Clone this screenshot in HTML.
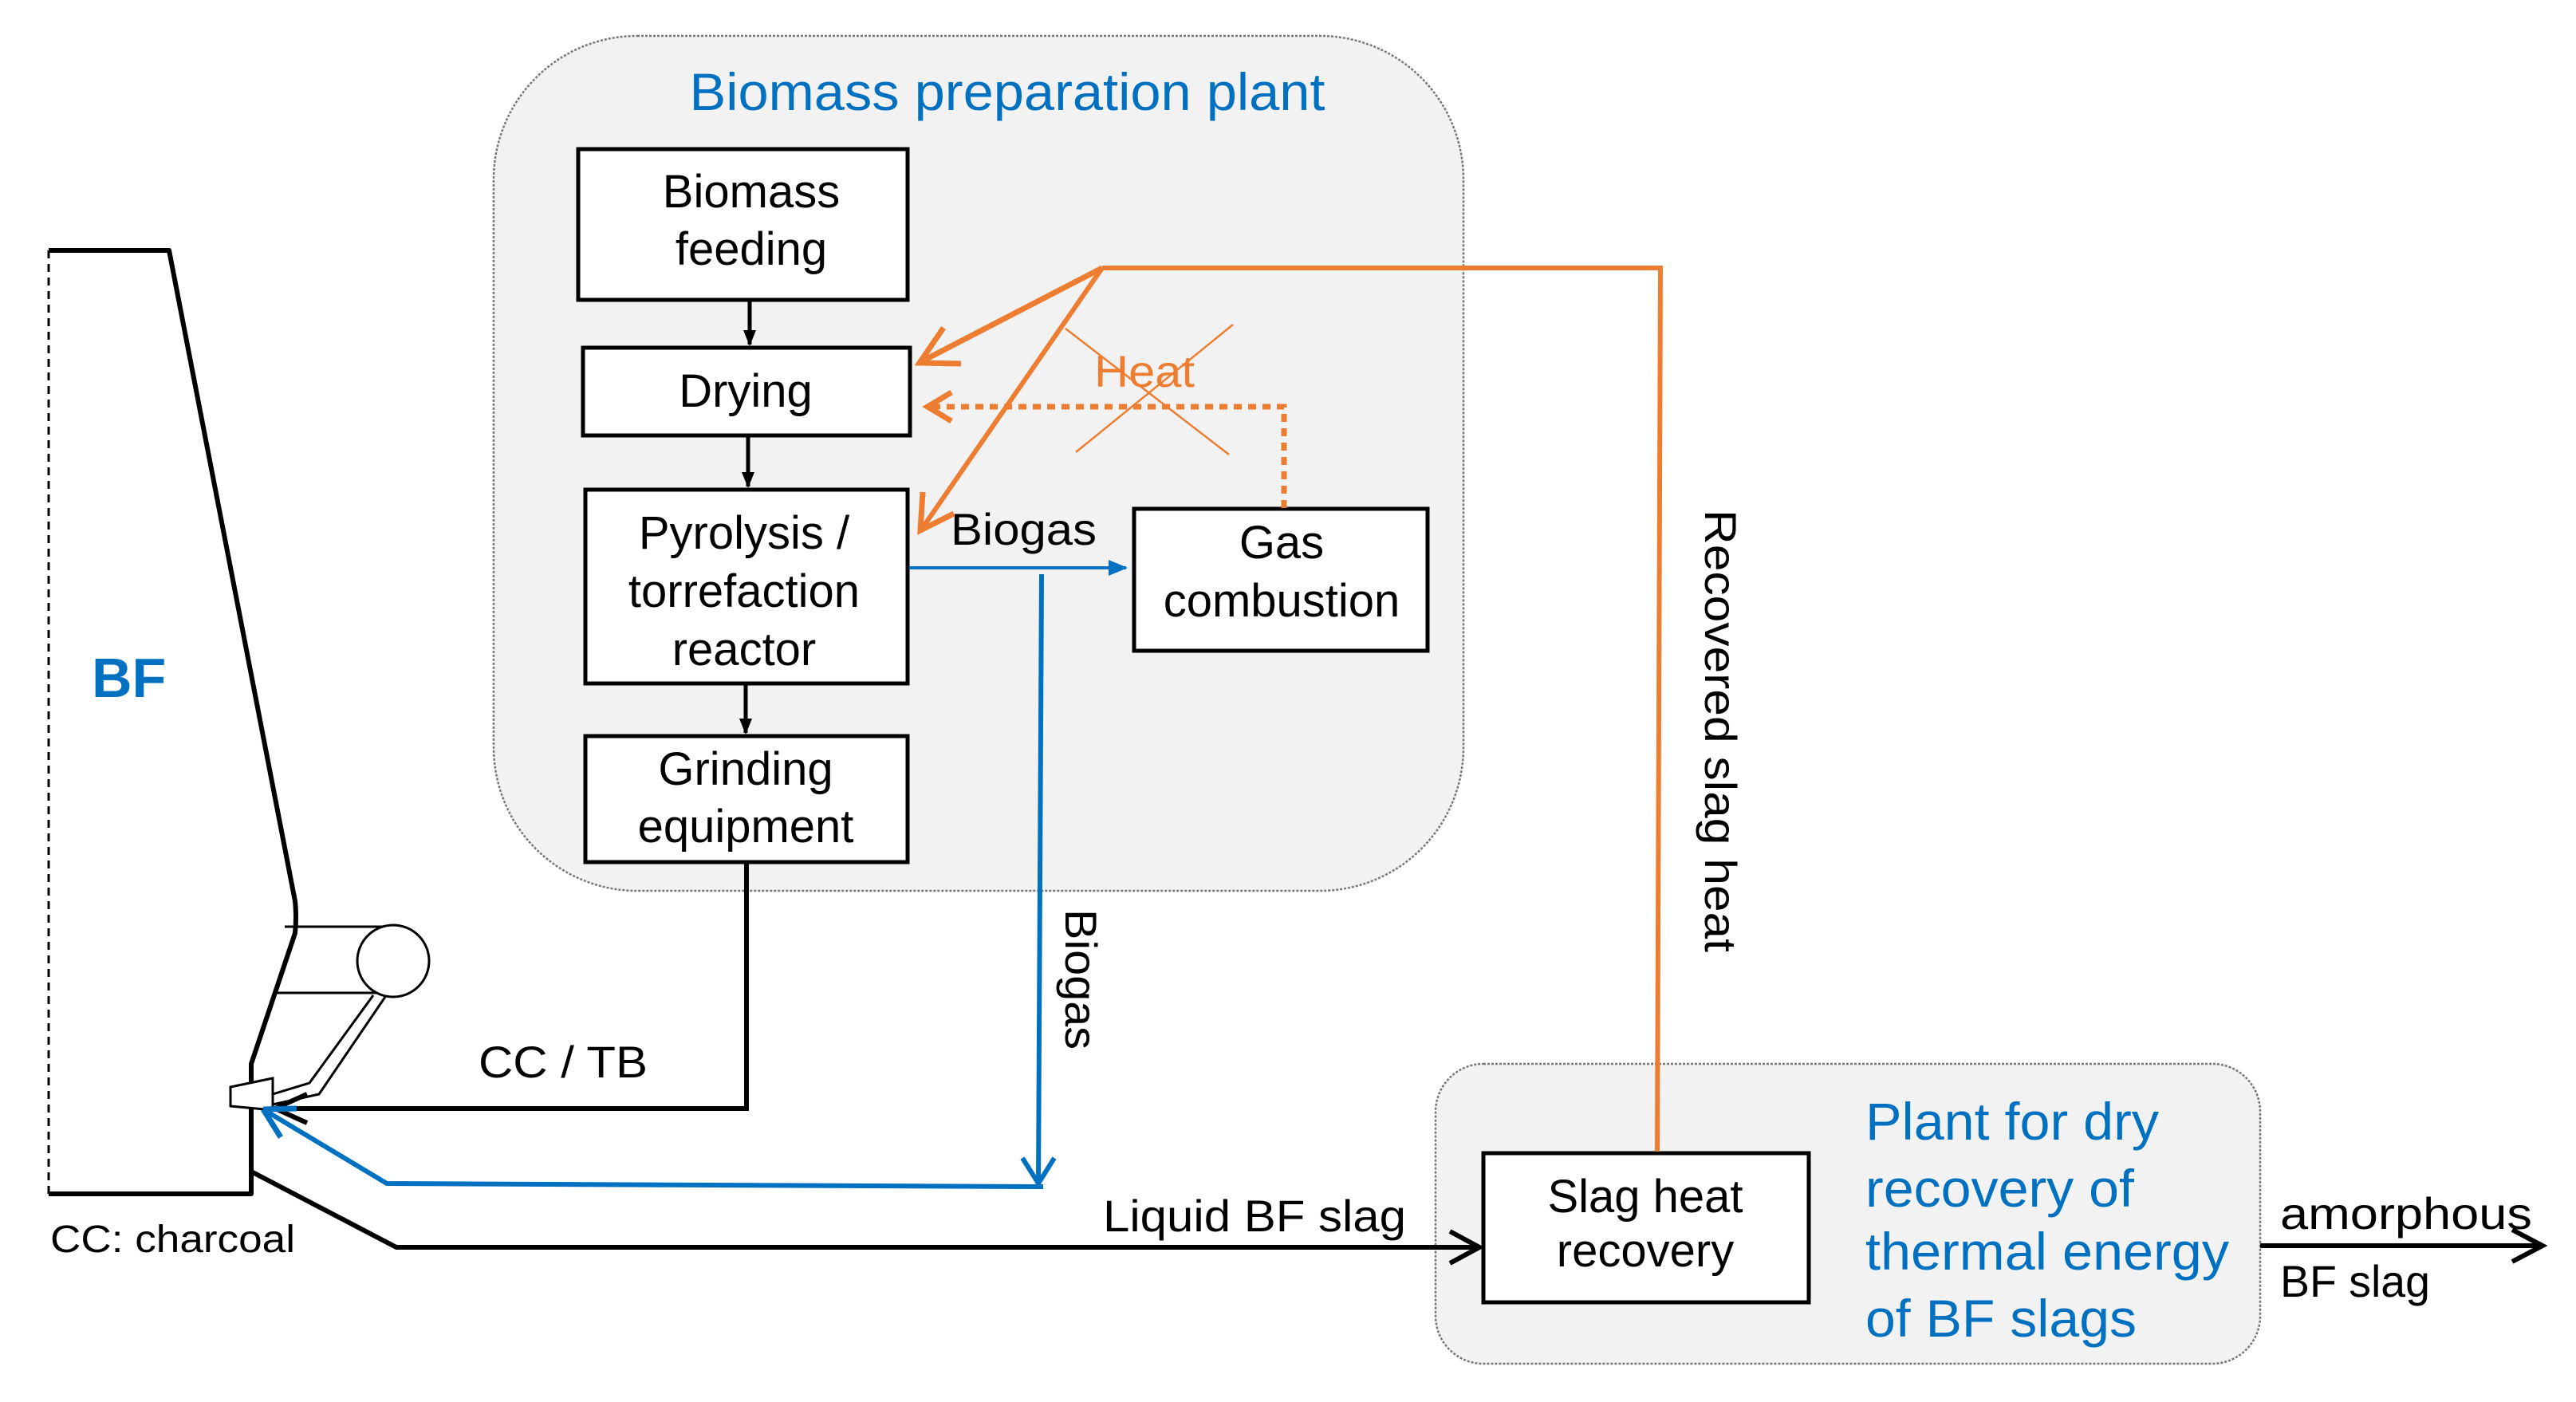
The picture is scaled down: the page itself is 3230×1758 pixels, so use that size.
<!DOCTYPE html>
<html><head><meta charset="utf-8"><style>
html,body{margin:0;padding:0;background:#fff;}
svg{display:block;}
text{font-family:"Liberation Sans",Arial,sans-serif;}
</style></head><body>
<svg width="3230" height="1758" viewBox="0 0 3230 1758" xmlns="http://www.w3.org/2000/svg">
<defs>
<marker id="ab" markerWidth="20" markerHeight="20" refX="18" refY="10" orient="auto" markerUnits="userSpaceOnUse" viewBox="0 0 20 20"><path d="M0,2 L20,10 L0,18 z" fill="#000"/></marker>
<marker id="ablue" markerWidth="24" markerHeight="20" refX="22" refY="10" orient="auto" markerUnits="userSpaceOnUse"><path d="M0,0 L24,10 L0,20 z" fill="#0070C0"/></marker>
</defs>

<rect x="619" y="45" width="1216" height="1072" rx="180" ry="180" fill="#f2f2f2" stroke="#777" stroke-width="2.5" stroke-dasharray="3,2"/>
<rect x="1800" y="1334" width="1034" height="376" rx="60" ry="60" fill="#f2f2f2" stroke="#777" stroke-width="2.5" stroke-dasharray="3,2"/>

<text x="1263" y="138" font-size="66" fill="#0070C0" text-anchor="middle" textLength="797" lengthAdjust="spacingAndGlyphs">Biomass preparation plant</text>

<g fill="#fff" stroke="#000" stroke-width="5">
<rect x="725" y="187" width="413" height="189"/>
<rect x="731" y="436" width="410" height="110"/>
<rect x="734" y="614" width="404" height="243"/>
<rect x="734" y="923" width="404" height="158"/>
<rect x="1422" y="638" width="368" height="178"/>
<rect x="1860" y="1446" width="408" height="187"/>
</g>
<g font-size="58" text-anchor="middle" fill="#000">
<text x="942" y="260">Biomass</text>
<text x="942" y="332">feeding</text>
<text x="935" y="510">Drying</text>
<text x="933" y="688">Pyrolysis /</text>
<text x="933" y="761">torrefaction</text>
<text x="933" y="834">reactor</text>
<text x="935" y="984">Grinding</text>
<text x="935" y="1056">equipment</text>
<text x="1607" y="700">Gas</text>
<text x="1607" y="773">combustion</text>
<text x="2063" y="1520">Slag heat</text>
<text x="2063" y="1588">recovery</text>
</g>

<g stroke="#000" stroke-width="5" fill="none">
<line x1="940" y1="378" x2="940" y2="432" marker-end="url(#ab)"/>
<line x1="938" y1="548" x2="938" y2="610" marker-end="url(#ab)"/>
<line x1="935" y1="859" x2="935" y2="919" marker-end="url(#ab)"/>
</g>

<line x1="61" y1="314" x2="61" y2="1497" stroke="#000" stroke-width="3" stroke-dasharray="10,7"/>
<path d="M61,314 L212,314 L370,1130 Q372,1150 370,1170 L315,1334 L315,1497 L61,1497" fill="none" stroke="#000" stroke-width="6" stroke-linejoin="round"/>
<text x="115" y="874" font-size="70" font-weight="bold" fill="#0070C0">BF</text>

<g stroke="#000" stroke-width="3" fill="none">
<line x1="357" y1="1162" x2="493" y2="1162"/>
<line x1="345" y1="1245" x2="478" y2="1245"/>
<circle cx="493" cy="1205" r="45" fill="#fff"/>
<path d="M468,1248 L388,1358 L342,1372"/>
<path d="M483,1250 L400,1372 L342,1385"/>
<path d="M289,1363 L342,1352 L342,1392 L289,1387 Z" fill="#fff"/>
</g>

<path d="M936,1082 L936,1390 L355,1390" fill="none" stroke="#000" stroke-width="6"/>
<path d="M345,1390 L385,1372 M345,1390 L385,1408" stroke="#000" stroke-width="6" fill="none"/>
<text x="600" y="1351" font-size="56" textLength="212" lengthAdjust="spacingAndGlyphs">CC / TB</text>

<line x1="1140" y1="712" x2="1412" y2="712" stroke="#0070C0" stroke-width="4" marker-end="url(#ablue)"/>
<text x="1192" y="683" font-size="56" textLength="183" lengthAdjust="spacingAndGlyphs">Biogas</text>
<path d="M1306,720 L1302,1484" stroke="#0070C0" stroke-width="6" fill="none"/>
<path d="M1282,1452 L1302,1484 L1322,1452" stroke="#0070C0" stroke-width="6" fill="none"/>
<path d="M1308,1488 L485,1484 L335,1394" stroke="#0070C0" stroke-width="6" fill="none"/>
<path d="M330,1391 L372,1390 M330,1391 L352,1426" stroke="#0070C0" stroke-width="7" fill="none"/>
<text transform="translate(1336,1140) rotate(90)" font-size="56" textLength="176" lengthAdjust="spacingAndGlyphs">Biogas</text>

<path d="M315,1469 L497,1564 L1852,1564" fill="none" stroke="#000" stroke-width="6"/>
<path d="M1818,1544 L1855,1564 L1818,1584" fill="none" stroke="#000" stroke-width="6"/>
<text x="1383" y="1544" font-size="56" textLength="380" lengthAdjust="spacingAndGlyphs">Liquid BF slag</text>
<text x="63" y="1570" font-size="48" textLength="307" lengthAdjust="spacingAndGlyphs">CC: charcoal</text>

<line x1="2834" y1="1562" x2="3185" y2="1562" stroke="#000" stroke-width="6"/>
<path d="M3150,1542 L3188,1562 L3150,1582" fill="none" stroke="#000" stroke-width="6"/>
<text x="2859" y="1541" font-size="56" textLength="316" lengthAdjust="spacingAndGlyphs">amorphous</text>
<text x="2859" y="1626" font-size="56" textLength="188" lengthAdjust="spacingAndGlyphs">BF slag</text>

<g font-size="66" fill="#0070C0">
<text x="2339" y="1429" textLength="368" lengthAdjust="spacingAndGlyphs">Plant for dry</text>
<text x="2339" y="1513" textLength="337" lengthAdjust="spacingAndGlyphs">recovery of</text>
<text x="2339" y="1592" textLength="456" lengthAdjust="spacingAndGlyphs">thermal energy</text>
<text x="2339" y="1676" textLength="340" lengthAdjust="spacingAndGlyphs">of BF slags</text>
</g>

<path d="M1382,336 L2082,336 L2078,1444" fill="none" stroke="#ED7D31" stroke-width="6"/>
<line x1="1382" y1="336" x2="1156" y2="453" stroke="#ED7D31" stroke-width="7"/>
<path d="M1183,411 L1153,455 L1205,456" fill="none" stroke="#ED7D31" stroke-width="7"/>
<line x1="1382" y1="336" x2="1158" y2="660" stroke="#ED7D31" stroke-width="6"/>
<path d="M1157,617 L1154,665 L1196,644" fill="none" stroke="#ED7D31" stroke-width="7"/>
<text transform="translate(2138,639) rotate(90)" font-size="56" textLength="555" lengthAdjust="spacingAndGlyphs">Recovered slag heat</text>

<path d="M1610,637 L1610,510 L1168,510" fill="none" stroke="#ED7D31" stroke-width="7" stroke-dasharray="10,8"/>
<path d="M1193,492 L1163,510 L1193,528" fill="none" stroke="#ED7D31" stroke-width="7"/>
<text x="1372" y="485" font-size="56" fill="#ED7D31" textLength="126" lengthAdjust="spacingAndGlyphs">Heat</text>
<line x1="1336" y1="412" x2="1541" y2="570" stroke="#ED7D31" stroke-width="2.5"/>
<line x1="1349" y1="567" x2="1546" y2="407" stroke="#ED7D31" stroke-width="2.5"/>
</svg>
</body></html>
